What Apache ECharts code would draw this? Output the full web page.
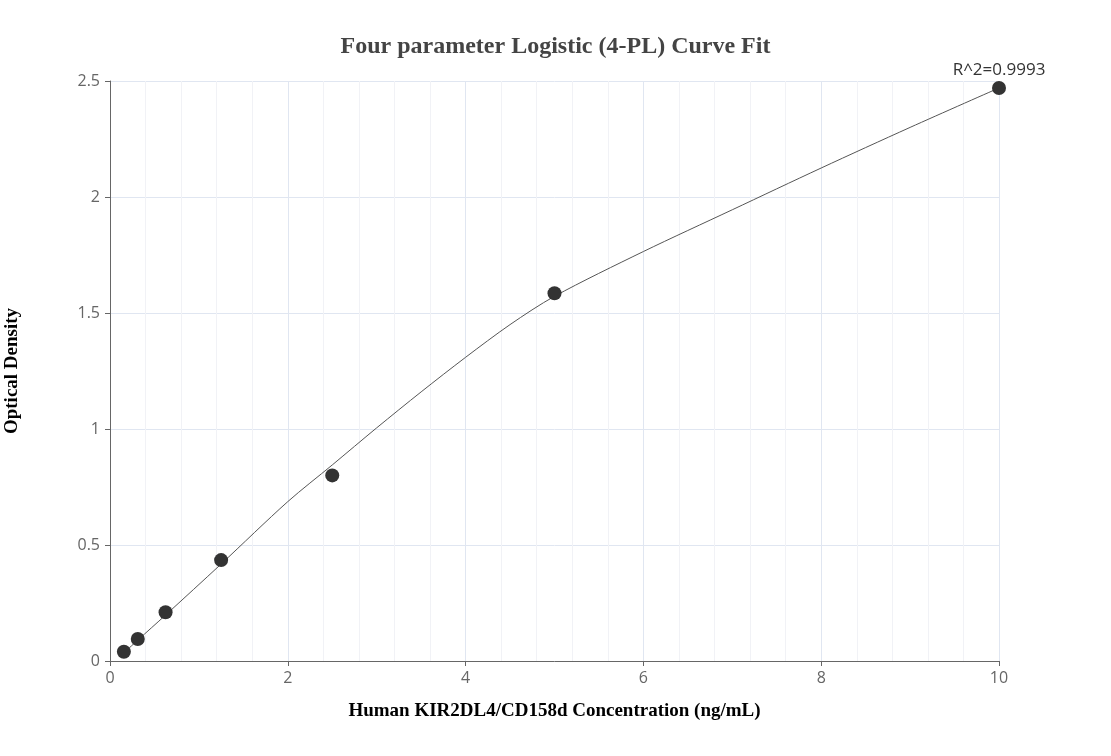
<!DOCTYPE html>
<html lang="en">
<head>
    <meta charset="UTF-8">
    <title>Four parameter Logistic (4-PL) Curve Fit</title>
    <script src="https://cdn.jsdelivr.net/npm/echarts@6/dist/echarts.min.js"></script>
    <style>
        body { margin: 0; padding: 0; background: #fff; }
        #main { width: 1111px; height: 756px; }
    </style>
</head>
<body>
    <div id="main"></div>
    <script>
        // standard points (concentration, OD)
        const stdConc = [0.156, 0.3125, 0.625, 1.25, 2.5, 5, 10];
        const stdOD = [0.04, 0.095, 0.21, 0.435, 0.80, 1.585, 2.47];
        // fitted curve
        const fitConc = [0.156, 0.3125, 0.625, 1.25, 2, 2.5, 3, 3.5, 4, 4.5, 5, 6, 7, 8, 9, 10];
        const fitOD = [0.035, 0.09, 0.198, 0.418, 0.687, 0.845, 1.005, 1.16, 1.309, 1.45, 1.572, 1.765, 1.945, 2.125, 2.30, 2.47];
        const r2Text = 'R^2=0.9993';

        const myChart = echarts.init(document.getElementById('main'));
        const option = {
            animation: false,
            title: {
                text: 'Four parameter Logistic (4-PL) Curve Fit',
                left: 'center', top: 30,
                textStyle: { fontFamily: 'Liberation Serif', fontSize: 24, fontWeight: 'bold', color: '#444' }
            },
            grid: { left: 110, right: 112, top: 81, bottom: 95, outerBoundsMode: 'none' },
            xAxis: {
                type: 'value', min: 0, max: 10, interval: 2,
                name: 'Human KIR2DL4/CD158d Concentration (ng/mL)',
                nameLocation: 'middle', nameGap: 41,
                nameTextStyle: { fontFamily: 'Liberation Serif', fontSize: 19, fontWeight: 'bold', color: '#000' },
                axisLine: { show: true, lineStyle: { color: '#666' } },
                axisTick: { show: true, lineStyle: { color: '#666' } },
                axisLabel: { fontFamily: 'Open Sans', fontSize: 16, color: '#666', margin: 9 },
                splitLine: { show: true, lineStyle: { color: '#e0e6f1' } },
                minorTick: { show: false, splitNumber: 5 },
                minorSplitLine: { show: true, lineStyle: { color: '#f1f2f6' } }
            },
            yAxis: {
                type: 'value', min: 0, max: 2.5, interval: 0.5,
                name: 'Optical Density',
                nameLocation: 'middle', nameGap: 88,
                nameTextStyle: { fontFamily: 'Liberation Serif', fontSize: 19, fontWeight: 'bold', color: '#000' },
                axisLine: { show: true, lineStyle: { color: '#666' } },
                axisTick: { show: true, lineStyle: { color: '#666' } },
                axisLabel: { fontFamily: 'Open Sans', fontSize: 16, color: '#666', margin: 10 },
                splitLine: { show: true, lineStyle: { color: '#e0e6f1' } }
            },
            series: [
                {
                    type: 'line',
                    data: fitConc.map((x, i) => [x, fitOD[i]]),
                    smooth: 0.3,
                    showSymbol: false,
                    lineStyle: { color: '#555', width: 1 },
                    z: 2
                },
                {
                    type: 'scatter',
                    data: stdConc.map((x, i) => {
                        const d = { value: [x, stdOD[i]] };
                        if (i === stdConc.length - 1) {
                            d.label = {
                                show: true, position: 'top', distance: 2,
                                formatter: r2Text,
                                fontFamily: 'Open Sans', fontSize: 17, color: '#333'
                            };
                        }
                        return d;
                    }),
                    symbolSize: 14,
                    itemStyle: { color: '#333', opacity: 1 },
                    z: 3
                }
            ]
        };
        myChart.setOption(option);
    </script>
</body>
</html>
